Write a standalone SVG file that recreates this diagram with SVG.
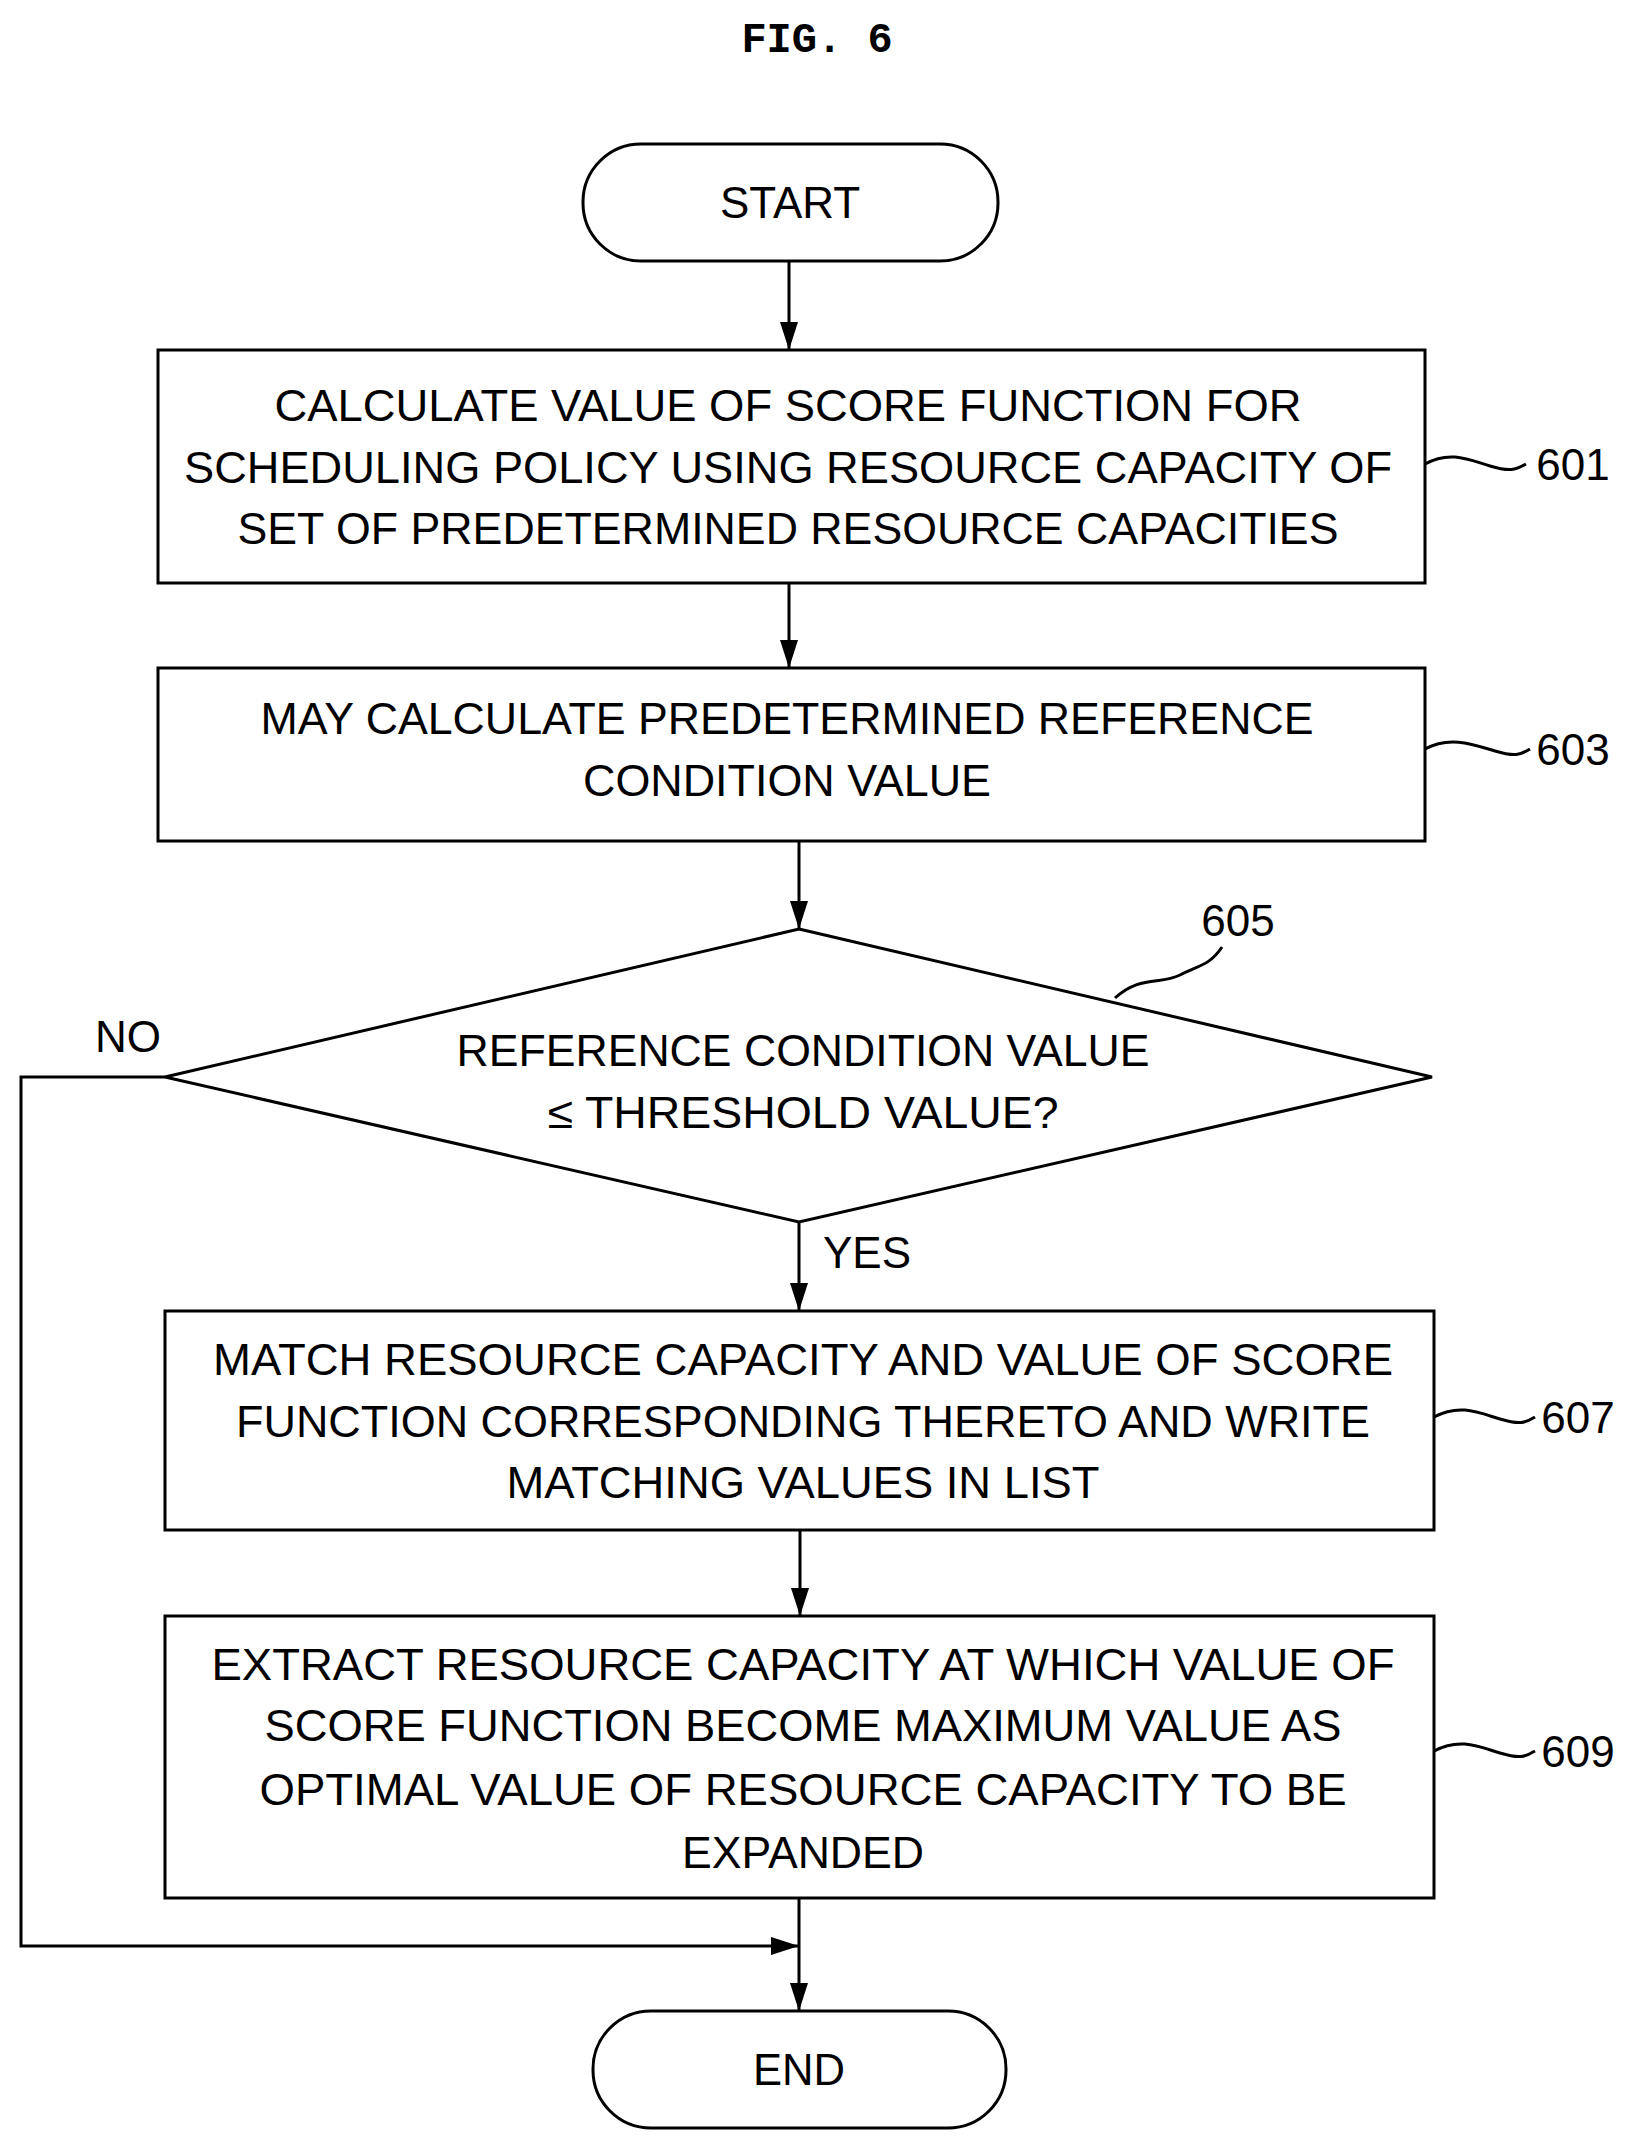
<svg xmlns="http://www.w3.org/2000/svg" width="1632" height="2141" viewBox="0 0 1632 2141">
<style>
.s{fill:none;stroke:#000;stroke-width:3}
.n{fill:#fff;stroke:#000;stroke-width:3}
.t{font-family:"Liberation Sans",Arial,sans-serif;font-size:44px;text-anchor:middle;dominant-baseline:central;fill:#000}
.l{font-family:"Liberation Sans",Arial,sans-serif;font-size:44px;text-anchor:middle;dominant-baseline:central;fill:#000}
</style>
<defs><marker id="a" markerWidth="10" markerHeight="10" refX="9" refY="5" orient="auto" markerUnits="userSpaceOnUse" viewBox="0 0 10 10"><path d="M0,0 L10,5 L0,10 z" fill="#000"/></marker>
<marker id="b" markerWidth="28" markerHeight="28" refX="28" refY="14" orient="auto" markerUnits="userSpaceOnUse" viewBox="0 0 28 28"><path d="M0,5 L28,14 L0,23 z" fill="#000"/></marker></defs>
<text x="817" y="41" style="font-family:'Liberation Mono',monospace;font-weight:bold;font-size:42px;dominant-baseline:central;text-anchor:middle">FIG. 6</text>
<g id="connectors">
<line class="s" x1="789" y1="261" x2="789" y2="350" marker-end="url(#b)"/>
<line class="s" x1="789" y1="583" x2="789" y2="668" marker-end="url(#b)"/>
<line class="s" x1="799" y1="841" x2="799" y2="929" marker-end="url(#b)"/>
<line class="s" x1="799" y1="1222" x2="799" y2="1311" marker-end="url(#b)"/>
<line class="s" x1="800" y1="1530" x2="800" y2="1616" marker-end="url(#b)"/>
<line class="s" x1="799" y1="1898" x2="799" y2="2011" marker-end="url(#b)"/>
<polyline class="s" points="165,1077 21,1077 21,1946 799,1946" marker-end="url(#b)"/>
<text class="l" x="128" y="1036">NO</text>
<text class="l" x="867" y="1252">YES</text>
</g>
<g id="start"><rect class="n" x="583" y="144" width="415" height="117" rx="58"/><text class="t" x="790" y="202" textLength="140" lengthAdjust="spacingAndGlyphs">START</text></g>
<g id="n601"><rect class="n" x="158" y="350" width="1267" height="233"/>
<text class="t" x="788" y="405" textLength="1027" lengthAdjust="spacingAndGlyphs">CALCULATE VALUE OF SCORE FUNCTION FOR</text>
<text class="t" x="788" y="467" textLength="1208" lengthAdjust="spacingAndGlyphs">SCHEDULING POLICY USING RESOURCE CAPACITY OF</text>
<text class="t" x="788" y="528" textLength="1101" lengthAdjust="spacingAndGlyphs">SET OF PREDETERMINED RESOURCE CAPACITIES</text>
<path class="s" d="M1425,464 C1450,450 1470,460 1490,466 S1515,470 1526,464"/>
<text class="l" x="1573" y="464">601</text></g>
<g id="n603"><rect class="n" x="158" y="668" width="1267" height="173"/>
<text class="t" x="787" y="718" textLength="1053" lengthAdjust="spacingAndGlyphs">MAY CALCULATE PREDETERMINED REFERENCE</text>
<text class="t" x="787" y="780" textLength="408" lengthAdjust="spacingAndGlyphs">CONDITION VALUE</text>
<path class="s" d="M1425,749 C1450,735 1475,745 1495,751 S1520,755 1530,749"/>
<text class="l" x="1573" y="749">603</text></g>
<g id="n605"><polygon class="n" points="799,929 1432,1077 799,1222 165,1077"/>
<text class="t" x="803" y="1050" textLength="693" lengthAdjust="spacingAndGlyphs">REFERENCE CONDITION VALUE</text>
<text class="t" x="803" y="1112" textLength="511" lengthAdjust="spacingAndGlyphs">≤ THRESHOLD VALUE?</text>
<path class="s" d="M1115,998 C1140,975 1160,985 1180,975 S1210,965 1222,947"/>
<text class="l" x="1238" y="920">605</text></g>
<g id="n607"><rect class="n" x="165" y="1311" width="1269" height="219"/>
<text class="t" x="803" y="1359" textLength="1180" lengthAdjust="spacingAndGlyphs">MATCH RESOURCE CAPACITY AND VALUE OF SCORE</text>
<text class="t" x="803" y="1421" textLength="1134" lengthAdjust="spacingAndGlyphs">FUNCTION CORRESPONDING THERETO AND WRITE</text>
<text class="t" x="803" y="1482" textLength="593" lengthAdjust="spacingAndGlyphs">MATCHING VALUES IN LIST</text>
<path class="s" d="M1434,1417 C1460,1403 1480,1413 1500,1419 S1525,1423 1535,1417"/>
<text class="l" x="1578" y="1417">607</text></g>
<g id="n609"><rect class="n" x="165" y="1616" width="1269" height="282"/>
<text class="t" x="803" y="1664" textLength="1183" lengthAdjust="spacingAndGlyphs">EXTRACT RESOURCE CAPACITY AT WHICH VALUE OF</text>
<text class="t" x="803" y="1725" textLength="1077" lengthAdjust="spacingAndGlyphs">SCORE FUNCTION BECOME MAXIMUM VALUE AS</text>
<text class="t" x="803" y="1789" textLength="1087" lengthAdjust="spacingAndGlyphs">OPTIMAL VALUE OF RESOURCE CAPACITY TO BE</text>
<text class="t" x="803" y="1852" textLength="242" lengthAdjust="spacingAndGlyphs">EXPANDED</text>
<path class="s" d="M1434,1751 C1460,1737 1480,1747 1500,1753 S1525,1757 1535,1751"/>
<text class="l" x="1578" y="1751">609</text></g>
<g id="end"><rect class="n" x="593" y="2011" width="413" height="117" rx="58"/><text class="t" x="799" y="2069" textLength="92" lengthAdjust="spacingAndGlyphs">END</text></g>
</svg>
